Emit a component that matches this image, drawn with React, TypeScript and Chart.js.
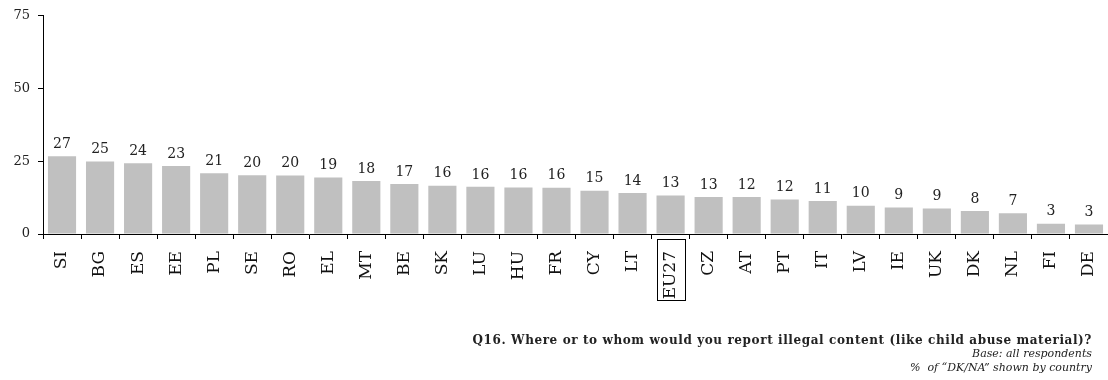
import React, { useEffect, useRef } from "react";
import { Chart, registerables } from "chart.js";

Chart.register(...registerables);

const countries: string[] = [
  "SI", "BG", "ES", "EE", "PL", "SE", "RO", "EL", "MT", "BE", "SK", "LU", "HU", "FR",
  "CY", "LT", "EU27", "CZ", "AT", "PT", "IT", "LV", "IE", "UK", "DK", "NL", "FI", "DE",
];
const dkNaValues: number[] = [
  26.7, 24.9, 24.3, 23.4, 20.9, 20.2, 20.1, 19.4, 18.2, 17.2, 16.6, 16.2, 16.0, 15.9,
  14.9, 14.1, 13.2, 12.7, 12.7, 11.9, 11.3, 9.7, 9.1, 8.8, 7.9, 7.1, 3.5, 3.3,
];
const valueLabels: string[] = [
  "27", "25", "24", "23", "21", "20", "20", "19", "18", "17", "16", "16", "16", "16",
  "15", "14", "13", "13", "12", "12", "11", "10", "9", "9", "8", "7", "3", "3",
];
const yTicks: number[] = [0, 25, 50, 75];
const highlighted = "EU27";

const footTitle = "Q16. Where or to whom would you report illegal content (like child abuse material)?";
const footBase = "Base: all respondents";
const footNote = "%  of \u201CDK/NA\u201D shown by country";

const SERIF = "'DejaVu Serif', 'Liberation Serif', serif";

const valueLabelPlugin = {
  id: "valueLabels",
  afterDatasetsDraw(chart: any) {
    const ctx = chart.ctx;
    const meta = chart.getDatasetMeta(0);
    ctx.save();
    ctx.font = `14px ${SERIF}`;
    ctx.fillStyle = "#222";
    ctx.textAlign = "center";
    ctx.textBaseline = "bottom";
    meta.data.forEach((bar: any, i: number) => {
      ctx.fillText(valueLabels[i], bar.x, bar.y - 5);
    });
    ctx.restore();
  },
};

const boxPlugin = {
  id: "highlightBox",
  afterDraw(chart: any) {
    const idx = countries.indexOf(highlighted);
    if (idx < 0) return;
    const xs = chart.scales.x;
    const ctx = chart.ctx;
    ctx.save();
    ctx.font = `17px ${SERIF}`;
    const tw = ctx.measureText(highlighted).width;
    const x = xs.getPixelForTick(idx);
    const top = xs.top + 5;
    const bottom = xs.top + 12 + tw + 6;
    ctx.strokeStyle = "#000";
    ctx.lineWidth = 1;
    ctx.strokeRect(Math.round(x - 14) + 0.5, Math.round(top) + 0.5, 28, Math.round(bottom - top));
    ctx.restore();
  },
};

export default function App() {
  const ref = useRef<HTMLCanvasElement>(null);

  useEffect(() => {
    document.body.style.margin = "0";
    if (!ref.current) return;
    const chart = new Chart(ref.current, {
      type: "bar",
      data: {
        labels: countries,
        datasets: [
          {
            data: dkNaValues,
            backgroundColor: "#c0c0c0",
            borderWidth: 0,
            barPercentage: 0.74,
            categoryPercentage: 1,
          },
        ],
      },
      options: {
        animation: false,
        responsive: false,
        devicePixelRatio: 1,
        layout: { padding: { top: 14, right: 0, left: 0, bottom: 0 } },
        plugins: {
          legend: { display: false },
          tooltip: { enabled: false },
          title: { display: false },
        },
        scales: {
          x: {
            offset: true,
            grid: {
              offset: true,
              drawOnChartArea: false,
              drawTicks: true,
              tickLength: 5,
              color: "#000",
            },
            border: { color: "#000", width: 1 },
            ticks: {
              minRotation: 90,
              maxRotation: 90,
              autoSkip: false,
              padding: 12,
              color: "#111",
              font: { family: SERIF, size: 17 },
            },
            afterFit(scale: any) {
              scale.height = 146;
              scale.paddingRight = 0;
              scale.paddingLeft = 0;
            },
          },
          y: {
            min: 0,
            max: 75,
            afterBuildTicks(scale: any) {
              scale.ticks = yTicks.map((v) => ({ value: v }));
            },
            grid: {
              drawOnChartArea: false,
              drawTicks: true,
              tickLength: 5,
              color: "#000",
            },
            border: { color: "#000", width: 1 },
            ticks: {
              padding: 8,
              color: "#222",
              font: { family: SERIF, size: 13 },
            },
            afterFit(scale: any) {
              scale.width = 43;
            },
          },
        },
      },
      plugins: [valueLabelPlugin, boxPlugin],
    });
    return () => chart.destroy();
  }, []);

  const lineStyle: React.CSSProperties = {
    fontFamily: SERIF,
    fontSize: "11px",
    lineHeight: "14px",
    color: "#222",
    whiteSpace: "pre",
  };

  return (
    <div style={{ position: "relative", width: 1108, height: 380 }}>
      <canvas ref={ref} width={1108} height={380} style={{ display: "block" }} />
      <div
        style={{
          position: "absolute",
          right: 16,
          top: 333,
          textAlign: "right",
        }}
      >
        <div style={{ ...lineStyle, fontWeight: "bold", fontSize: "12px", letterSpacing: "0.6px" }}>{footTitle}</div>
        <div style={{ ...lineStyle, fontStyle: "italic" }}>{footBase}</div>
        <div style={{ ...lineStyle, fontStyle: "italic" }}>{footNote}</div>
      </div>
    </div>
  );
}
